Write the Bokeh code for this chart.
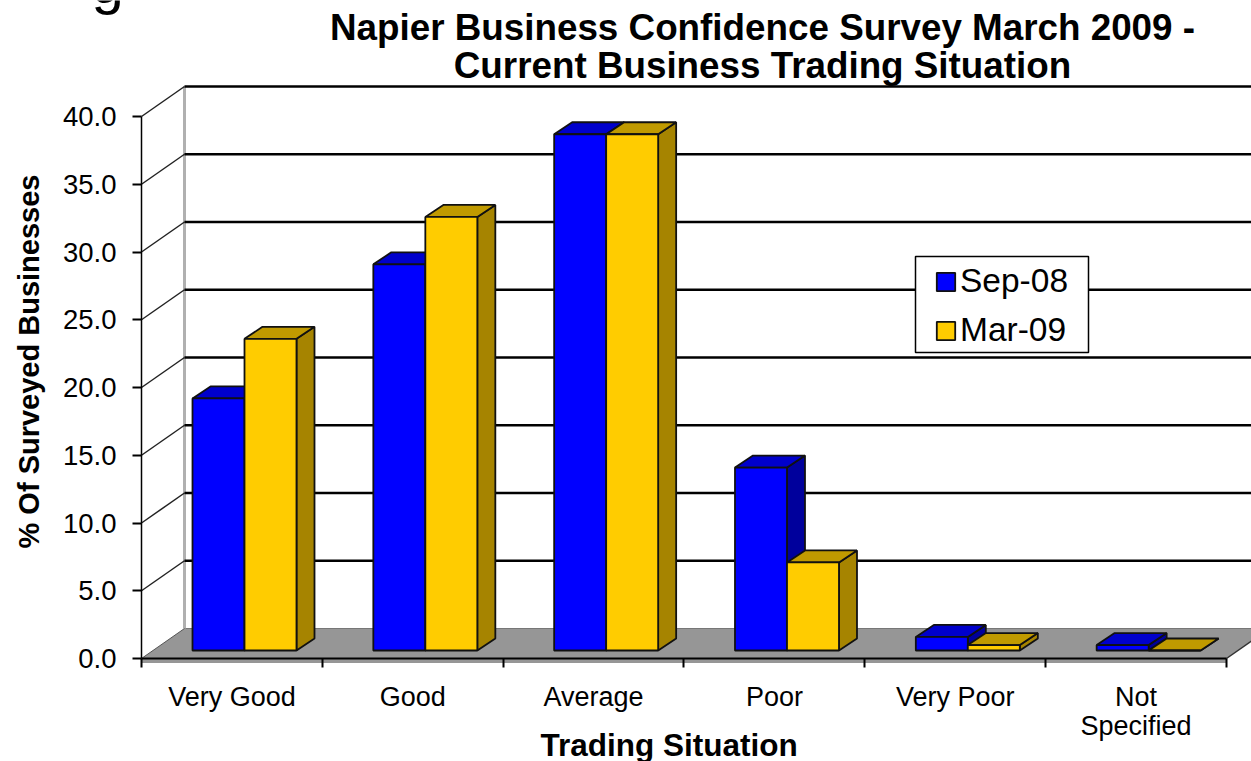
from bokeh.embed import file_html
from bokeh.resources import INLINE
from bokeh.plotting import figure
from bokeh.models import (Range1d, LinearAxis, FixedTicker, NumeralTickFormatter, BoxAnnotation,
                          Legend, LegendItem, Label)

categories = ["Very Good", "Good", "Average", "Poor", "Very Poor", "Not\nSpecified"]
sep_08 = [18.6, 28.5, 38.1, 13.5, 1.0, 0.4]
mar_09 = [23.0, 32.0, 38.1, 6.5, 0.4, 0.0]
y_ticks = [0, 5, 10, 15, 20, 25, 30, 35, 40]

W, H = 1251, 761
PX_X = 180.83          # pixels per category
PX_Y = 13.55           # pixels per percentage point
ORIGIN_X, ORIGIN_Y = 141, 658
WALL_X, WALL_Y = 43 / PX_X, 30 / PX_Y
BAR_X0, BAR_W = 51 / PX_X, 52 / PX_X
BAR_BASE = 8 / PX_Y
DEPTH_X, DEPTH_Y = 18 / PX_X, 12 / PX_Y
N = len(categories)
x_start = -ORIGIN_X / PX_X
x_end = x_start + W / PX_X
y_top = ORIGIN_Y / PX_Y
y_start = y_top - H / PX_Y


def dx(px):
    return (px - ORIGIN_X) / PX_X


def dy(px):
    return (ORIGIN_Y - px) / PX_Y


p = figure(width=W, height=H, output_backend="svg", toolbar_location=None,
           x_range=Range1d(x_start, x_end), y_range=Range1d(y_start, y_top),
           min_border=0, x_axis_type=None, y_axis_type=None, outline_line_color=None,
           background_fill_color="white", border_fill_color="white")
p.xgrid.visible = False
p.ygrid.visible = False

# floor
slab = 4.5 / PX_Y
right_y = (x_end - N) * WALL_Y / WALL_X
p.patch([0, N, N, 0], [0, 0, -slab, -slab], fill_color="#969696", line_color=None)
p.patch([0, WALL_X, x_end, x_end, N], [0, WALL_Y, WALL_Y, right_y, 0],
        fill_color="#969696", line_color=None)
p.line([N, x_end], [0, right_y], line_color="#333333", line_width=1.5)
p.line([WALL_X, x_end], [WALL_Y, WALL_Y], line_color="#777777", line_width=1)
# walls
p.segment([WALL_X], [WALL_Y], [WALL_X], [40 + WALL_Y], line_color="#b0b0b0", line_width=3)
p.segment(x0=[0 for _ in y_ticks[1:]], y0=y_ticks[1:], x1=[WALL_X for _ in y_ticks[1:]],
          y1=[t + WALL_Y for t in y_ticks[1:]], line_color="#222222", line_width=1.5)
p.segment(x0=[WALL_X for _ in y_ticks[1:]], y0=[t + WALL_Y for t in y_ticks[1:]],
          x1=[x_end for _ in y_ticks[1:]], y1=[t + WALL_Y for t in y_ticks[1:]],
          line_color="black", line_width=2.5)
p.line([0, 0], [0, 40], line_color="black", line_width=1.5)
p.line([0, WALL_X], [0, WALL_Y], line_color="#555555", line_width=1)
p.line([0, N], [0, 0], line_color="black", line_width=2)


def draw_series(values, offset, front, top, side):
    lefts = [i + BAR_X0 + offset * BAR_W for i in range(N)]
    rights = [l + BAR_W for l in lefts]
    tops = [BAR_BASE + v for v in values]
    p.patches(
        [[r, r + DEPTH_X, r + DEPTH_X, r] for r in rights],
        [[BAR_BASE, BAR_BASE + DEPTH_Y, t + DEPTH_Y, t] for t in tops],
        fill_color=side, line_color="#111111", line_width=1.8)
    p.patches(
        [[l, l + DEPTH_X, r + DEPTH_X, r] for l, r in zip(lefts, rights)],
        [[t, t + DEPTH_Y, t + DEPTH_Y, t] for t in tops],
        fill_color=top, line_color="#111111", line_width=1.8)
    return p.quad(left=lefts, right=rights, top=tops, bottom=[BAR_BASE] * N,
                  fill_color=front, line_color="#111111", line_width=1.8)


r_sep = draw_series(sep_08, 0, "#0000FF", "#0000CC", "#00009C")
r_mar = draw_series(mar_09, 1, "#FFCC00", "#C09A00", "#A68400")

# axes
yaxis = LinearAxis(fixed_location=0, ticker=FixedTicker(ticks=y_ticks), bounds=(0, 40),
                   formatter=NumeralTickFormatter(format="0.0"), axis_line_color=None,
                   major_tick_in=0, major_tick_out=9, major_tick_line_color="black",
                   major_tick_line_width=2, minor_tick_line_color=None,
                   major_label_standoff=16, major_label_text_font="Liberation Sans",
                   major_label_text_font_size="27.5px", major_label_text_color="black")
p.add_layout(yaxis, "left")

ylabel_axis = LinearAxis(fixed_location=0, ticker=FixedTicker(ticks=[]), bounds=(3.84, 40),
                         axis_line_color=None, major_tick_line_color=None, minor_tick_line_color=None,
                         axis_label="% Of Surveyed Businesses", axis_label_standoff=97,
                         axis_label_text_font="Liberation Sans", axis_label_text_font_style="bold",
                         axis_label_text_font_size="29px", axis_label_text_color="black")
p.add_layout(ylabel_axis, "left")

centers = [i + 0.5 for i in range(N)]
xaxis = LinearAxis(fixed_location=0, bounds=(0, N),
                   ticker=FixedTicker(ticks=centers, minor_ticks=list(range(N + 1))),
                   major_label_overrides={c: l for c, l in zip(centers, categories)},
                   axis_line_color=None, major_tick_line_color=None, major_tick_in=0, major_tick_out=0,
                   minor_tick_line_color="black", minor_tick_line_width=2, minor_tick_in=0, minor_tick_out=9,
                   major_label_standoff=14, major_label_text_font="Liberation Sans",
                   major_label_text_font_size="27px", major_label_text_color="black",
                   major_label_text_line_height=0.97)
p.add_layout(xaxis, "below")

xlabel_axis = LinearAxis(fixed_location=0, bounds=(-0.166, N), ticker=FixedTicker(ticks=[]),
                         axis_line_color=None, major_tick_line_color=None, minor_tick_line_color=None,
                         axis_label="Trading Situation", axis_label_standoff=68,
                         axis_label_text_font="Liberation Sans", axis_label_text_font_style="bold",
                         axis_label_text_font_size="31.5px", axis_label_text_color="black")
p.add_layout(xlabel_axis, "below")

# title
p.add_layout(Label(x=dx(762), y=dy(46), text="Napier Business Confidence Survey March 2009 -\nCurrent Business Trading Situation",
                   text_align="center", text_baseline="middle", text_font="Liberation Sans",
                   text_font_style="bold", text_font_size="36.8px", text_color="black", text_line_height=0.925))
p.add_layout(Label(x=dx(91), y=dy(-18), text="g", text_align="left", text_baseline="alphabetic",
                   text_font="Liberation Sans", text_font_size="58px", text_color="black"))

# legend
p.add_layout(BoxAnnotation(left=dx(915), right=dx(1088), top=dy(256), bottom=dy(352),
                           fill_color="white", fill_alpha=1, line_color="black", line_alpha=1, line_width=1.5))
legend = Legend(items=[LegendItem(label="Sep-08", renderers=[r_sep]),
                       LegendItem(label="Mar-09", renderers=[r_mar])],
                location=(934, 412), orientation="vertical",
                border_line_color=None, background_fill_alpha=0,
                label_text_font="Liberation Sans", label_text_font_size="33.5px",
                label_text_color="black", glyph_width=23, glyph_height=23, padding=5, spacing=11,
                margin=0, label_standoff=3)
p.add_layout(legend, "center")

open("out.html", "w").write(file_html(p, INLINE))
